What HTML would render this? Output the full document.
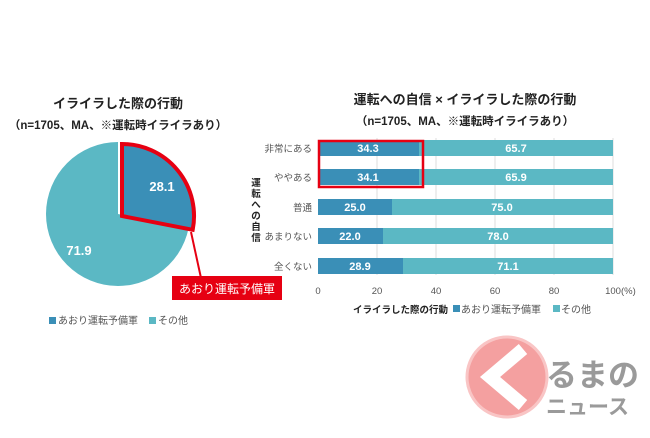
<!DOCTYPE html>
<html><head><meta charset="utf-8"><style>
body{margin:0;background:#fff;}
svg text{font-family:"Liberation Sans","Noto Sans CJK JP",sans-serif;}
</style></head><body>
<svg width="650" height="433" viewBox="0 0 650 433" xmlns="http://www.w3.org/2000/svg">
<rect width="650" height="433" fill="#fff"/>
<text x="118" y="108" text-anchor="middle" font-size="13" font-weight="bold" fill="#222">イライラした際の行動</text>
<text x="118" y="129" text-anchor="middle" font-size="11.5" font-weight="bold" fill="#222">（n=1705、MA、※運転時イライラあり）</text>
<circle cx="118" cy="214" r="72" fill="#5bb8c4"/>
<path d="M118,214 L118,142 A72,72 0 0,1 188.7,227.8 Z" fill="#fff"/>
<path d="M122,216 L122,144 A72,72 0 0,1 192.7,229.8 Z" fill="#3a8fb7" stroke="#e60012" stroke-width="4" stroke-linejoin="miter"/>
<text x="162" y="191" text-anchor="middle" font-size="13" font-weight="bold" fill="#fff">28.1</text>
<text x="79" y="255" text-anchor="middle" font-size="13" font-weight="bold" fill="#fff">71.9</text>
<line x1="191" y1="232" x2="201" y2="278" stroke="#e60012" stroke-width="2"/>
<rect x="172" y="276" width="110" height="24" fill="#e60012"/>
<text x="227" y="293" text-anchor="middle" font-size="12" fill="#fff">あおり運転予備軍</text>
<rect x="49" y="317" width="7" height="7" fill="#3a8fb7"/>
<text x="58" y="324" font-size="10" fill="#555">あおり運転予備軍</text>
<rect x="149" y="317" width="7" height="7" fill="#5bb8c4"/>
<text x="158" y="324" font-size="10" fill="#555">その他</text>
<text x="465" y="104" text-anchor="middle" font-size="13" font-weight="bold" fill="#222">運転への自信 × イライラした際の行動</text>
<text x="465" y="125" text-anchor="middle" font-size="11.5" font-weight="bold" fill="#222">（n=1705、MA、※運転時イライラあり）</text>
<g stroke="#ddd" stroke-width="1">
<line x1="377" y1="138" x2="377" y2="275"/><line x1="436" y1="138" x2="436" y2="275"/>
<line x1="495" y1="138" x2="495" y2="275"/><line x1="554" y1="138" x2="554" y2="275"/>
<line x1="613" y1="138" x2="613" y2="275"/>
</g>
<g font-size="11" font-weight="bold" fill="#fff" text-anchor="middle">
<rect x="318" y="140" width="101" height="16" fill="#3a8fb7"/><rect x="419" y="140" width="194" height="16" fill="#5bb8c4"/>
<text x="368" y="152">34.3</text><text x="516" y="152">65.7</text>
<rect x="318" y="169" width="101" height="16" fill="#3a8fb7"/><rect x="419" y="169" width="194" height="16" fill="#5bb8c4"/>
<text x="368" y="181">34.1</text><text x="516" y="181">65.9</text>
<rect x="318" y="199" width="74" height="16" fill="#3a8fb7"/><rect x="392" y="199" width="221" height="16" fill="#5bb8c4"/>
<text x="355" y="211">25.0</text><text x="502" y="211">75.0</text>
<rect x="318" y="228" width="65" height="16" fill="#3a8fb7"/><rect x="383" y="228" width="230" height="16" fill="#5bb8c4"/>
<text x="350" y="240">22.0</text><text x="498" y="240">78.0</text>
<rect x="318" y="258" width="85" height="16" fill="#3a8fb7"/><rect x="403" y="258" width="210" height="16" fill="#5bb8c4"/>
<text x="360" y="270">28.9</text><text x="508" y="270">71.1</text>
</g>
<rect x="319" y="141" width="104" height="46" fill="none" stroke="#e60012" stroke-width="2.5"/>
<g font-size="9.5" fill="#555" text-anchor="end">
<text x="312" y="152">非常にある</text><text x="312" y="181">ややある</text>
<text x="312" y="211">普通</text><text x="312" y="240">あまりない</text><text x="312" y="270">全くない</text>
</g>
<g font-size="9.5" font-weight="bold" fill="#222" text-anchor="middle">
<text x="256" y="186">運</text><text x="256" y="197">転</text><text x="256" y="208">へ</text>
<text x="256" y="219">の</text><text x="256" y="230">自</text><text x="256" y="241">信</text>
</g>
<g font-size="9.5" fill="#555" text-anchor="middle">
<text x="318" y="294">0</text><text x="377" y="294">20</text><text x="436" y="294">40</text>
<text x="495" y="294">60</text><text x="554" y="294">80</text><text x="613" y="294">100</text>
</g>
<text x="621" y="294" font-size="9.5" fill="#555">(%)</text>
<text x="353" y="313" font-size="9.5" font-weight="bold" fill="#222">イライラした際の行動</text>
<rect x="453" y="305" width="7" height="7" fill="#3a8fb7"/>
<text x="461" y="313" font-size="10" fill="#555">あおり運転予備軍</text>
<rect x="553" y="305" width="7" height="7" fill="#5bb8c4"/>
<text x="561" y="313" font-size="10" fill="#555">その他</text>
<circle cx="507" cy="377" r="40" fill="#f4a0a0" stroke="#f9c5c5" stroke-width="3"/>
<polyline points="523,349 490,377 523,405" fill="none" stroke="#fff" stroke-width="13" stroke-linejoin="miter"/>
<text x="546" y="386" font-size="31" font-weight="bold" fill="#9a9a9a">るまの</text>
<text x="546" y="414" font-size="21" font-weight="bold" fill="#9a9a9a">ニュース</text>
</svg>
</body></html>
